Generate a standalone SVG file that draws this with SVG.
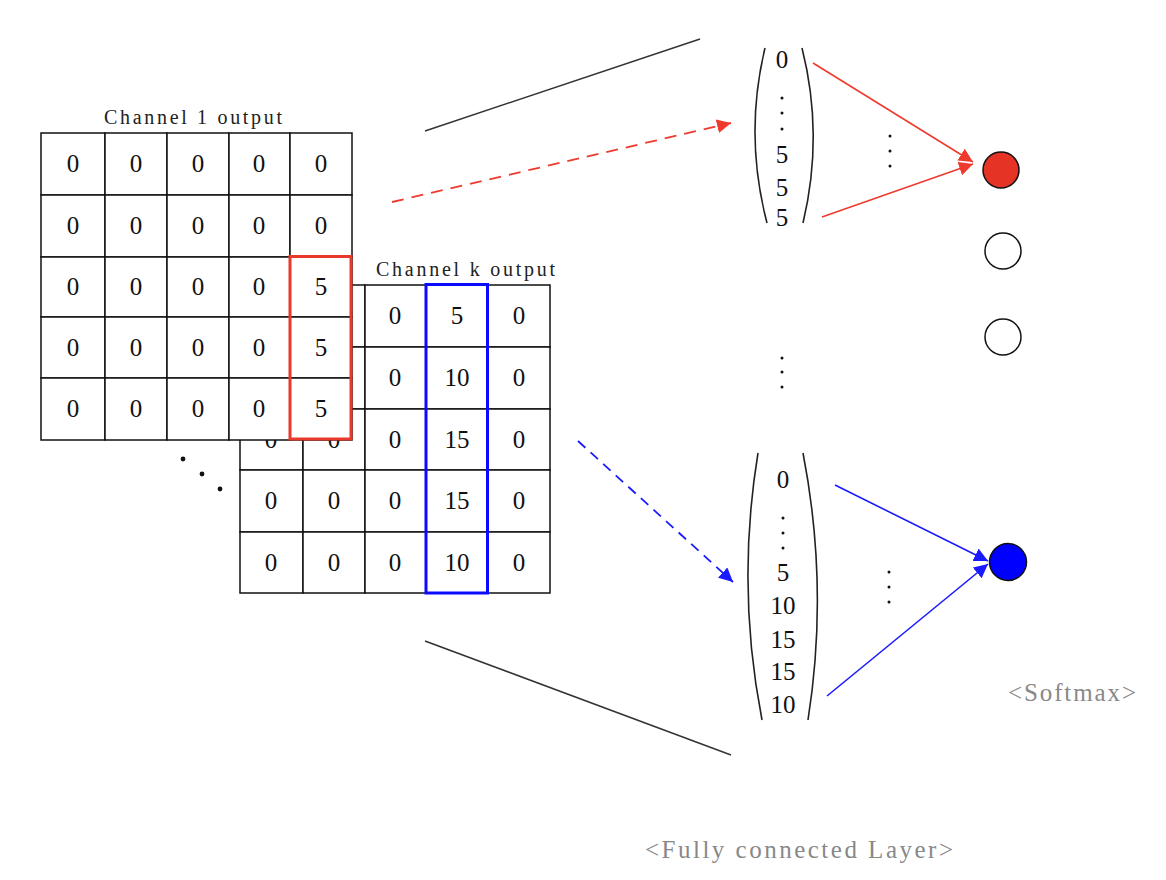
<svg xmlns="http://www.w3.org/2000/svg" width="1166" height="880" viewBox="0 0 1166 880">
<defs>
<style>
.cell{fill:#fff;stroke:#111;stroke-width:1.5}
.num{font-family:"Liberation Serif","DejaVu Serif",serif;font-size:25px;fill:#111;text-anchor:middle}
.title{font-family:"Liberation Serif","DejaVu Serif",serif;font-size:20px;fill:#222}
.lbl{font-family:"Liberation Serif","DejaVu Serif",serif;font-size:25px;fill:#888}
.paren{fill:none;stroke:#222;stroke-width:1.6}
.dot{fill:#111}
</style>
<marker id="ahR" markerWidth="16" markerHeight="14" refX="14" refY="7" orient="auto" markerUnits="userSpaceOnUse"><path d="M0,0 L14,7 L0,14 Z" fill="#ee3b2e"/></marker>
<marker id="ahB" markerWidth="16" markerHeight="14" refX="14" refY="7" orient="auto" markerUnits="userSpaceOnUse"><path d="M0,0 L14,7 L0,14 Z" fill="#1a1aff"/></marker>
</defs>
<rect width="1166" height="880" fill="#fff"/>

<g id="channel-k">
<text class="title" x="376" y="276" textLength="179" lengthAdjust="spacing">Channel k output</text>
<g>
<rect class="cell" x="240" y="285" width="63" height="62"/><rect class="cell" x="303" y="285" width="62" height="62"/><rect class="cell" x="365" y="285" width="61" height="62"/><rect class="cell" x="426" y="285" width="62" height="62"/><rect class="cell" x="488" y="285" width="62" height="62"/>
<rect class="cell" x="240" y="347" width="63" height="62"/><rect class="cell" x="303" y="347" width="62" height="62"/><rect class="cell" x="365" y="347" width="61" height="62"/><rect class="cell" x="426" y="347" width="62" height="62"/><rect class="cell" x="488" y="347" width="62" height="62"/>
<rect class="cell" x="240" y="409" width="63" height="61"/><rect class="cell" x="303" y="409" width="62" height="61"/><rect class="cell" x="365" y="409" width="61" height="61"/><rect class="cell" x="426" y="409" width="62" height="61"/><rect class="cell" x="488" y="409" width="62" height="61"/>
<rect class="cell" x="240" y="470" width="63" height="62"/><rect class="cell" x="303" y="470" width="62" height="62"/><rect class="cell" x="365" y="470" width="61" height="62"/><rect class="cell" x="426" y="470" width="62" height="62"/><rect class="cell" x="488" y="470" width="62" height="62"/>
<rect class="cell" x="240" y="532" width="63" height="61"/><rect class="cell" x="303" y="532" width="62" height="61"/><rect class="cell" x="365" y="532" width="61" height="61"/><rect class="cell" x="426" y="532" width="62" height="61"/><rect class="cell" x="488" y="532" width="62" height="61"/>
</g>
<g>
<text class="num" x="271" y="324">0</text><text class="num" x="334" y="324">0</text><text class="num" x="395" y="324">0</text><text class="num" x="457" y="324">5</text><text class="num" x="519" y="324">0</text>
<text class="num" x="271" y="386">0</text><text class="num" x="334" y="386">0</text><text class="num" x="395" y="386">0</text><text class="num" x="457" y="386">10</text><text class="num" x="519" y="386">0</text>
<text class="num" x="271" y="448">0</text><text class="num" x="334" y="448">0</text><text class="num" x="395" y="448">0</text><text class="num" x="457" y="448">15</text><text class="num" x="519" y="448">0</text>
<text class="num" x="271" y="509">0</text><text class="num" x="334" y="509">0</text><text class="num" x="395" y="509">0</text><text class="num" x="457" y="509">15</text><text class="num" x="519" y="509">0</text>
<text class="num" x="271" y="571">0</text><text class="num" x="334" y="571">0</text><text class="num" x="395" y="571">0</text><text class="num" x="457" y="571">10</text><text class="num" x="519" y="571">0</text>
</g>
<rect x="426" y="284.5" width="61.5" height="308.5" fill="none" stroke="#0a0aff" stroke-width="3"/>
</g>

<g id="channel-1">
<text class="title" x="104" y="124" textLength="178" lengthAdjust="spacing">Channel 1 output</text>
<g>
<rect class="cell" x="41" y="133" width="64" height="62"/><rect class="cell" x="105" y="133" width="62" height="62"/><rect class="cell" x="167" y="133" width="62" height="62"/><rect class="cell" x="229" y="133" width="61" height="62"/><rect class="cell" x="290" y="133" width="62" height="62"/>
<rect class="cell" x="41" y="195" width="64" height="62"/><rect class="cell" x="105" y="195" width="62" height="62"/><rect class="cell" x="167" y="195" width="62" height="62"/><rect class="cell" x="229" y="195" width="61" height="62"/><rect class="cell" x="290" y="195" width="62" height="62"/>
<rect class="cell" x="41" y="257" width="64" height="60"/><rect class="cell" x="105" y="257" width="62" height="60"/><rect class="cell" x="167" y="257" width="62" height="60"/><rect class="cell" x="229" y="257" width="61" height="60"/><rect class="cell" x="290" y="257" width="62" height="60"/>
<rect class="cell" x="41" y="317" width="64" height="61"/><rect class="cell" x="105" y="317" width="62" height="61"/><rect class="cell" x="167" y="317" width="62" height="61"/><rect class="cell" x="229" y="317" width="61" height="61"/><rect class="cell" x="290" y="317" width="62" height="61"/>
<rect class="cell" x="41" y="378" width="64" height="62"/><rect class="cell" x="105" y="378" width="62" height="62"/><rect class="cell" x="167" y="378" width="62" height="62"/><rect class="cell" x="229" y="378" width="61" height="62"/><rect class="cell" x="290" y="378" width="62" height="62"/>
</g>
<g>
<text class="num" x="73" y="172">0</text><text class="num" x="136" y="172">0</text><text class="num" x="198" y="172">0</text><text class="num" x="259" y="172">0</text><text class="num" x="321" y="172">0</text>
<text class="num" x="73" y="234">0</text><text class="num" x="136" y="234">0</text><text class="num" x="198" y="234">0</text><text class="num" x="259" y="234">0</text><text class="num" x="321" y="234">0</text>
<text class="num" x="73" y="295">0</text><text class="num" x="136" y="295">0</text><text class="num" x="198" y="295">0</text><text class="num" x="259" y="295">0</text><text class="num" x="321" y="295">5</text>
<text class="num" x="73" y="356">0</text><text class="num" x="136" y="356">0</text><text class="num" x="198" y="356">0</text><text class="num" x="259" y="356">0</text><text class="num" x="321" y="356">5</text>
<text class="num" x="73" y="417">0</text><text class="num" x="136" y="417">0</text><text class="num" x="198" y="417">0</text><text class="num" x="259" y="417">0</text><text class="num" x="321" y="417">5</text>
</g>
<rect x="290" y="256.5" width="61" height="182.5" fill="none" stroke="#e8392b" stroke-width="3"/>
</g>

<g id="channel-ellipsis">
<circle class="dot" cx="183" cy="459" r="2.4"/><circle class="dot" cx="202" cy="474" r="2.4"/><circle class="dot" cx="220" cy="489" r="2.4"/>
</g>

<g id="vector-top">
<path class="paren" d="M765,48 Q744,135 767,223"/>
<path class="paren" d="M802,48 Q824,135 803,223"/>
<text class="num" x="782" y="68">0</text>
<circle class="dot" cx="782" cy="98" r="1.5"/><circle class="dot" cx="782" cy="113" r="1.5"/><circle class="dot" cx="782" cy="129" r="1.5"/>
<text class="num" x="782" y="163">5</text>
<text class="num" x="782" y="196">5</text>
<text class="num" x="782" y="226">5</text>
</g>

<g id="vector-bottom">
<path class="paren" d="M758,453 Q736,587 762,720"/>
<path class="paren" d="M803,453 Q829,587 808,720"/>
<text class="num" x="783" y="488">0</text>
<circle class="dot" cx="783" cy="518" r="1.5"/><circle class="dot" cx="783" cy="533" r="1.5"/><circle class="dot" cx="783" cy="548" r="1.5"/>
<text class="num" x="783" y="581">5</text>
<text class="num" x="783" y="614">10</text>
<text class="num" x="783" y="648">15</text>
<text class="num" x="783" y="680">15</text>
<text class="num" x="783" y="713">10</text>
</g>

<g id="mid-ellipsis">
<circle class="dot" cx="782" cy="358" r="1.5"/><circle class="dot" cx="782" cy="372" r="1.5"/><circle class="dot" cx="782" cy="387" r="1.5"/>
<circle class="dot" cx="890" cy="136" r="1.5"/><circle class="dot" cx="890" cy="151" r="1.5"/><circle class="dot" cx="890" cy="166" r="1.5"/>
<circle class="dot" cx="889" cy="572" r="1.5"/><circle class="dot" cx="889" cy="587" r="1.5"/><circle class="dot" cx="889" cy="602" r="1.5"/>
</g>

<g id="connectors">
<line x1="425" y1="131" x2="700" y2="39" stroke="#333" stroke-width="1.5"/>
<line x1="425" y1="641" x2="731" y2="755" stroke="#333" stroke-width="1.5"/>
<line x1="392" y1="202" x2="731" y2="123" stroke="#ee3b2e" stroke-width="1.8" stroke-dasharray="12,8" marker-end="url(#ahR)"/>
<line x1="578" y1="441" x2="733" y2="582" stroke="#1a1aff" stroke-width="1.8" stroke-dasharray="10,7" marker-end="url(#ahB)"/>
<line x1="813" y1="63" x2="973" y2="162" stroke="#ee3b2e" stroke-width="1.6" marker-end="url(#ahR)"/>
<line x1="822" y1="217" x2="973" y2="164" stroke="#ee3b2e" stroke-width="1.6" marker-end="url(#ahR)"/>
<line x1="835" y1="485" x2="988" y2="561" stroke="#1a1aff" stroke-width="1.6" marker-end="url(#ahB)"/>
<line x1="827" y1="696" x2="988" y2="564" stroke="#1a1aff" stroke-width="1.6" marker-end="url(#ahB)"/>
</g>

<g id="softmax-nodes">
<circle cx="1001" cy="170" r="18" fill="#e53325" stroke="#111" stroke-width="1.5"/>
<circle cx="1003" cy="251" r="18" fill="#fff" stroke="#111" stroke-width="1.5"/>
<circle cx="1003" cy="337" r="18" fill="#fff" stroke="#111" stroke-width="1.5"/>
<circle cx="1008" cy="562" r="18.5" fill="#0000ff" stroke="#111" stroke-width="1.5"/>
</g>

<g id="labels">
<text class="lbl" x="1008" y="701" textLength="128" lengthAdjust="spacing">&lt;Softmax&gt;</text>
<text class="lbl" x="645" y="858" textLength="308" lengthAdjust="spacing">&lt;Fully connected Layer&gt;</text>
</g>
</svg>
